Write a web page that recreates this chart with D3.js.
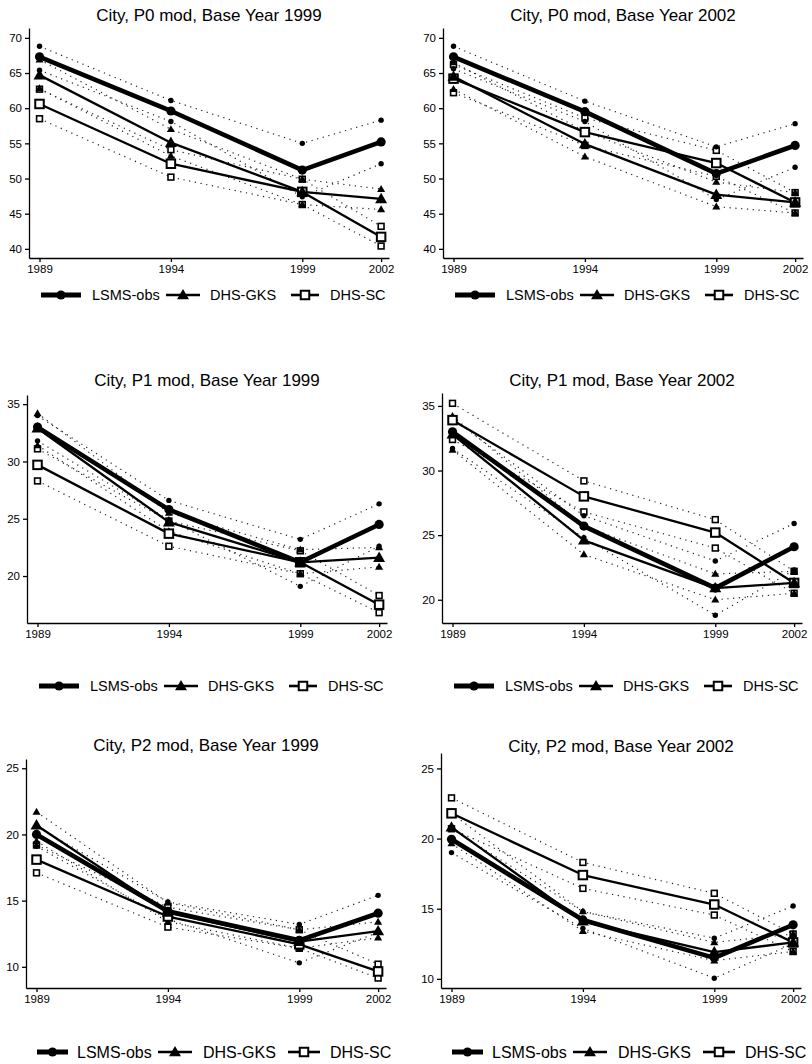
<!DOCTYPE html>
<html><head><meta charset="utf-8">
<script src="https://cdn.jsdelivr.net/npm/d3@7"></script>
<style>
body{margin:0;background:#fff}
svg{display:block}
text{font-family:"Liberation Sans",Arial,Helvetica,sans-serif;fill:#000}
</style>
</head><body>
<svg id="chart" width="812" height="1064"></svg>
<script>
// ---------------- DATA ----------------
const years = [1989, 1994, 1999, 2002];
const seriesNames = ["LSMS-obs", "DHS-GKS", "DHS-SC"];
const panelTitles = [
  "City, P0 mod, Base Year 1999", "City, P0 mod, Base Year 2002",
  "City, P1 mod, Base Year 1999", "City, P1 mod, Base Year 2002",
  "City, P2 mod, Base Year 1999", "City, P2 mod, Base Year 2002"
];
const yTicksP0 = [40, 45, 50, 55, 60, 65, 70];
const yTicksP1 = [20, 25, 30, 35];
const yTicksP2 = [10, 15, 20, 25];
const yDomP0_99 = [38.7, 71.4];
const yDomP0_02 = [38.7, 71.4];
const yDomP1_99 = [15.9, 35.8];
const yDomP1_02 = [18.2, 36.0];
const yDomP2_99 = [8.4, 25.7];
const yDomP2_02 = [9.35, 26.1];

// P0, base 1999
const P0_99_LSMS    = [67.3, 59.6, 51.2, 55.2];
const P0_99_LSMS_HI = [68.8, 61.1, 55.0, 58.3];
const P0_99_LSMS_LO = [65.4, 58.1, 47.4, 52.1];
const P0_99_GKS     = [64.7, 55.1, 48.1, 47.1];
const P0_99_GKS_HI  = [66.9, 57.0, 49.9, 48.5];
const P0_99_GKS_LO  = [62.8, 53.2, 46.3, 45.6];
const P0_99_SC      = [60.6, 52.1, 48.1, 41.7];
const P0_99_SC_HI   = [62.7, 54.1, 49.9, 43.2];
const P0_99_SC_LO   = [58.5, 50.2, 46.3, 40.4];
// P0, base 2002
const P0_02_LSMS    = [67.3, 59.5, 50.7, 54.7];
const P0_02_LSMS_HI = [68.8, 61.0, 54.5, 57.8];
const P0_02_LSMS_LO = [65.6, 58.1, 47.0, 51.6];
const P0_02_GKS     = [64.5, 54.9, 47.7, 46.6];
const P0_02_GKS_HI  = [66.5, 56.7, 49.5, 48.0];
const P0_02_GKS_LO  = [62.7, 53.1, 46.0, 45.1];
const P0_02_SC      = [64.2, 56.6, 52.2, 46.6];
const P0_02_SC_HI   = [66.2, 58.6, 54.0, 48.0];
const P0_02_SC_LO   = [62.2, 54.7, 50.3, 45.1];
// P1, base 1999
const P1_99_LSMS    = [33.0, 25.8, 21.2, 24.5];
const P1_99_LSMS_HI = [34.0, 26.6, 23.2, 26.3];
const P1_99_LSMS_LO = [31.8, 24.9, 19.1, 22.6];
const P1_99_GKS     = [32.9, 24.7, 21.2, 21.6];
const P1_99_GKS_HI  = [34.2, 25.5, 22.3, 22.5];
const P1_99_GKS_LO  = [31.4, 23.9, 20.2, 20.8];
const P1_99_SC      = [29.7, 23.7, 21.2, 17.5];
const P1_99_SC_HI   = [31.1, 24.8, 22.2, 18.3];
const P1_99_SC_LO   = [28.3, 22.6, 20.2, 16.8];
// P1, base 2002
const P1_02_LSMS    = [33.0, 25.7, 20.9, 24.1];
const P1_02_LSMS_HI = [34.0, 26.5, 23.0, 25.9];
const P1_02_LSMS_LO = [31.7, 24.8, 18.8, 22.3];
const P1_02_GKS     = [32.8, 24.6, 20.9, 21.3];
const P1_02_GKS_HI  = [34.2, 25.7, 22.0, 22.2];
const P1_02_GKS_LO  = [31.6, 23.5, 20.0, 20.5];
const P1_02_SC      = [33.9, 28.0, 25.2, 21.3];
const P1_02_SC_HI   = [35.2, 29.2, 26.2, 22.2];
const P1_02_SC_LO   = [32.4, 26.8, 24.0, 20.5];
// P2, base 1999
const P2_99_LSMS    = [20.0, 14.2, 12.0, 14.05];
const P2_99_LSMS_HI = [20.6, 14.9, 13.2, 15.4];
const P2_99_LSMS_LO = [19.1, 13.6, 10.3, 12.6];
const P2_99_GKS     = [20.7, 14.1, 11.9, 12.7];
const P2_99_GKS_HI  = [21.7, 14.85, 12.8, 13.4];
const P2_99_GKS_LO  = [19.5, 13.4, 11.4, 12.2];
const P2_99_SC      = [18.1, 13.8, 11.7, 9.65];
const P2_99_SC_HI   = [19.2, 14.5, 12.8, 10.2];
const P2_99_SC_LO   = [17.1, 13.0, 11.4, 9.15];
// P2, base 2002
const P2_02_LSMS    = [19.95, 14.2, 11.5, 13.85];
const P2_02_LSMS_HI = [20.7, 14.8, 12.9, 15.2];
const P2_02_LSMS_LO = [19.0, 13.6, 10.05, 12.5];
const P2_02_GKS     = [20.8, 14.1, 11.9, 12.6];
const P2_02_GKS_HI  = [21.8, 14.8, 12.6, 13.2];
const P2_02_GKS_LO  = [19.65, 13.4, 11.3, 11.95];
const P2_02_SC      = [21.8, 17.4, 15.3, 12.6];
const P2_02_SC_HI   = [22.9, 18.3, 16.1, 13.2];
const P2_02_SC_LO   = [20.7, 16.45, 14.55, 11.95];

// ---------------- ASSEMBLY ----------------
const panels = [
  {title: panelTitles[0], ticks: yTicksP0, dom: yDomP0_99,
   s: [[P0_99_LSMS, P0_99_LSMS_HI, P0_99_LSMS_LO], [P0_99_GKS, P0_99_GKS_HI, P0_99_GKS_LO], [P0_99_SC, P0_99_SC_HI, P0_99_SC_LO]]},
  {title: panelTitles[1], ticks: yTicksP0, dom: yDomP0_02,
   s: [[P0_02_LSMS, P0_02_LSMS_HI, P0_02_LSMS_LO], [P0_02_GKS, P0_02_GKS_HI, P0_02_GKS_LO], [P0_02_SC, P0_02_SC_HI, P0_02_SC_LO]]},
  {title: panelTitles[2], ticks: yTicksP1, dom: yDomP1_99,
   s: [[P1_99_LSMS, P1_99_LSMS_HI, P1_99_LSMS_LO], [P1_99_GKS, P1_99_GKS_HI, P1_99_GKS_LO], [P1_99_SC, P1_99_SC_HI, P1_99_SC_LO]]},
  {title: panelTitles[3], ticks: yTicksP1, dom: yDomP1_02,
   s: [[P1_02_LSMS, P1_02_LSMS_HI, P1_02_LSMS_LO], [P1_02_GKS, P1_02_GKS_HI, P1_02_GKS_LO], [P1_02_SC, P1_02_SC_HI, P1_02_SC_LO]]},
  {title: panelTitles[4], ticks: yTicksP2, dom: yDomP2_99,
   s: [[P2_99_LSMS, P2_99_LSMS_HI, P2_99_LSMS_LO], [P2_99_GKS, P2_99_GKS_HI, P2_99_GKS_LO], [P2_99_SC, P2_99_SC_HI, P2_99_SC_LO]]},
  {title: panelTitles[5], ticks: yTicksP2, dom: yDomP2_02,
   s: [[P2_02_LSMS, P2_02_LSMS_HI, P2_02_LSMS_LO], [P2_02_GKS, P2_02_GKS_HI, P2_02_GKS_LO], [P2_02_SC, P2_02_SC_HI, P2_02_SC_LO]]}
];

// ---------------- LAYOUT ----------------
const legTop = [{s: [12, 52], t: 63}, {s: [137, 171], t: 181}, {s: [262, 290], t: 301}];
const legBot = [{s: [11, 42], t: 51}, {s: [132, 166], t: 177}, {s: [262, 294], t: 304}];
const layout = [
  {x0: 29,  top: 28,  bottom: 258, titleY: 21,  legY: 295,  legFont: 14.5, leg: legTop},
  {x0: 443, top: 28,  bottom: 258, titleY: 21,  legY: 295,  legFont: 14.5, leg: legTop},
  {x0: 27,  top: 395, bottom: 623, titleY: 386, legY: 686,  legFont: 14.5, leg: legTop},
  {x0: 442, top: 393, bottom: 623, titleY: 386, legY: 686,  legFont: 14.5, leg: legTop},
  {x0: 26,  top: 759, bottom: 988, titleY: 751, legY: 1052, legFont: 16,   leg: legBot},
  {x0: 441, top: 753, bottom: 988, titleY: 752, legY: 1052, legFont: 16,   leg: legBot}
];
const plotW = 360;
const xDom = [1988.6, 2002.3];

const svg = d3.select("#chart");

function drawMarker(g, type, cx, cy, big) {
  if (type === 0) {
    g.append("circle").attr("cx", cx).attr("cy", cy).attr("r", big ? 4.6 : 2.7).attr("fill", "#000");
  } else if (type === 1) {
    g.append("path").attr("d", d3.symbol(d3.symbolTriangle, big ? 62 : 28)())
      .attr("transform", `translate(${cx},${cy + (big ? 0.8 : 0.5)})`).attr("fill", "#000");
  } else {
    const s = big ? 8.5 : 5.8;
    g.append("rect").attr("x", cx - s / 2).attr("y", cy - s / 2).attr("width", s).attr("height", s)
      .attr("fill", "#fff").attr("stroke", "#000").attr("stroke-width", big ? 2 : 1.6);
  }
}

panels.forEach((p, i) => {
  const L = layout[i];
  const g = svg.append("g");
  const x = d3.scaleLinear().domain(xDom).range([L.x0, L.x0 + plotW]);
  const y = d3.scaleLinear().domain(p.dom).range([L.bottom, L.top]);

  // title
  g.append("text").attr("x", L.x0 + plotW / 2).attr("y", L.titleY)
    .attr("text-anchor", "middle").attr("font-size", 17).text(p.title);

  // axes
  const ya = g.append("g").attr("transform", `translate(${L.x0},0)`)
    .call(d3.axisLeft(y).tickValues(p.ticks).tickSize(4).tickPadding(3).tickSizeOuter(0));
  const xa = g.append("g").attr("transform", `translate(0,${L.bottom})`)
    .call(d3.axisBottom(x).tickValues(years).tickFormat(d3.format("d")).tickSize(4).tickPadding(3).tickSizeOuter(0));
  [ya, xa].forEach(a => {
    a.selectAll("path,line").attr("stroke", "#000").attr("stroke-width", 1.3);
    a.selectAll("text").attr("font-size", 11.5).attr("font-family", '"Liberation Sans",Arial,sans-serif');
  });

  const line = d3.line().x((d, j) => x(years[j])).y(d => y(d));

  // dotted bounds
  p.s.forEach((ser) => {
    [ser[1], ser[2]].forEach(b => {
      g.append("path").attr("d", line(b)).attr("fill", "none").attr("stroke", "#222")
        .attr("stroke-width", 1.2).attr("stroke-dasharray", "1.2,4.6");
    });
  });
  // solid lines (SC, GKS, then LSMS on top)
  [2, 1, 0].forEach(k => {
    g.append("path").attr("d", line(p.s[k][0])).attr("fill", "none").attr("stroke", "#000")
      .attr("stroke-width", k === 0 ? 4.6 : 2.3).attr("stroke-linejoin", "round");
  });
  // bound markers
  [2, 1, 0].forEach(k => {
    [p.s[k][1], p.s[k][2]].forEach(b => b.forEach((v, j) => drawMarker(g, k, x(years[j]), y(v), false)));
  });
  // main markers
  [2, 1, 0].forEach(k => {
    p.s[k][0].forEach((v, j) => drawMarker(g, k, x(years[j]), y(v), true));
  });

  // legend
  L.leg.forEach((it, k) => {
    const x1 = L.x0 + it.s[0], x2 = L.x0 + it.s[1];
    g.append("line").attr("x1", x1).attr("x2", x2).attr("y1", L.legY).attr("y2", L.legY)
      .attr("stroke", "#000").attr("stroke-width", k === 0 ? 5 : 2.6);
    drawMarker(g, k, (x1 + x2) / 2, L.legY, true);
    g.append("text").attr("x", L.x0 + it.t).attr("y", L.legY).attr("dy", "0.36em")
      .attr("font-size", L.legFont).text(seriesNames[k]);
  });
});
</script>
</body></html>
